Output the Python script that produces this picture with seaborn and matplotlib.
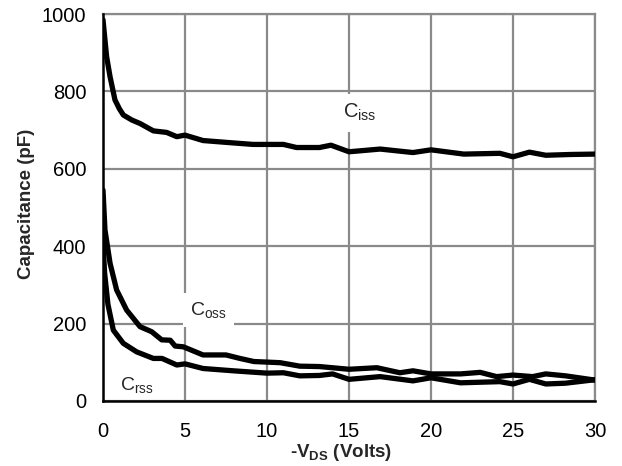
import matplotlib
matplotlib.use("Agg")
import matplotlib.pyplot as plt
import seaborn as sns
import pandas as pd

# ---- data ----
ciss_v = [0, 0.22, 0.43, 0.73, 1.0, 1.24, 1.76, 2.26, 3.07, 3.88, 4.5, 5.0, 6.1, 7.9, 9.15,
          11.0, 11.8, 13.2, 13.9, 15.0, 16.9, 18.9, 20.0, 22.0, 24.2, 25.0, 26.0, 27.0, 28.5, 30]
ciss_c = [985, 890, 838, 778, 755, 739, 726, 717, 698, 694, 683, 687, 673, 667, 663,
          663, 655, 655, 661, 644, 651, 642, 649, 638, 640, 631, 643, 635, 637, 638]

coss_v = [0, 0.12, 0.43, 0.83, 1.44, 2.26, 2.97, 3.58, 4.1, 4.4, 4.9, 6.1, 7.5, 8.35, 9.2,
          10.8, 12.0, 13.2, 15.0, 16.7, 18.1, 18.9, 20.0, 21.8, 23.0, 24.0, 25.0, 26.2, 27.0, 28.2, 30]
coss_c = [545, 442, 356, 287, 235, 192, 179, 158, 157, 142, 140, 119, 119, 110, 102,
          99, 90, 89, 82, 86, 73, 78, 70, 70, 74, 63, 67, 63, 70, 65, 54]

crss_v = [0, 0.1, 0.3, 0.63, 1.24, 2.05, 3.07, 3.6, 4.5, 5.0, 6.1, 7.95, 10.0, 11.0, 12.0,
          13.2, 14.0, 15.0, 16.9, 18.9, 20.0, 21.8, 24.2, 25.0, 26.0, 27.0, 28.2, 30]
crss_c = [410, 330, 250, 183, 149, 127, 110, 110, 93, 96, 84, 78, 72, 73, 65,
          66, 70, 56, 63, 52, 60, 47, 50, 44, 56, 44, 46, 55]

x_ticks = [0, 5, 10, 15, 20, 25, 30]
y_ticks = [0, 200, 400, 600, 800, 1000]

series_labels = ["C$_{\\mathregular{iss}}$", "C$_{\\mathregular{oss}}$", "C$_{\\mathregular{rss}}$"]

# ---- style ----
sns.set_theme(style="white")
plt.rcParams["font.family"] = ["Liberation Sans", "DejaVu Sans"]
plt.rcParams["mathtext.fontset"] = "custom"
plt.rcParams["mathtext.rm"] = "Liberation Sans"
plt.rcParams["mathtext.bf"] = "Liberation Sans:bold"
plt.rcParams["mathtext.default"] = "regular"

fig = plt.figure(figsize=(6.22, 4.66), dpi=100)
ax = fig.add_axes([103 / 622, 1 - 401 / 466, 492 / 622, 387 / 466])

grid_col = "#8a8a8a"
for v, c in [(ciss_v, ciss_c), (coss_v, coss_c), (crss_v, crss_c)]:
    df = pd.DataFrame({"V": v, "C": c})
    sns.lineplot(data=df, x="V", y="C", ax=ax, color="black", linewidth=3.8,
                 sort=False, solid_capstyle="round", solid_joinstyle="round", zorder=3)

ax.set_xlim(0, 30)
ax.set_ylim(0, 1000)
ax.set_xticks(x_ticks)
ax.set_yticks(y_ticks)
ax.grid(True, color=grid_col, linewidth=1.6)
ax.set_axisbelow(True)
ax.tick_params(length=0, labelsize=14.5, colors="black")
ax.tick_params(axis="x", pad=15)
ax.tick_params(axis="y", pad=12)

for s in ["left", "bottom"]:
    ax.spines[s].set_color("black")
    ax.spines[s].set_linewidth(1.8)
    ax.spines[s].set_zorder(4)
for s in ["top", "right"]:
    ax.spines[s].set_color(grid_col)
    ax.spines[s].set_linewidth(1.6)

ax.set_xlabel("-V$_{\\mathbf{DS}}$ (Volts)", fontsize=13.5, fontweight="bold", va="baseline")
ax.xaxis.set_label_coords(0.484, -0.145)
ax.set_ylabel("Capacitance (pF)", fontsize=13.5, fontweight="bold")
ax.yaxis.set_label_coords(-0.138, 0.51)

ax.text(14.63, 731, series_labels[0], fontsize=14.5, ha="left", va="baseline",
        bbox=dict(facecolor="white", edgecolor="none", pad=6), zorder=2)
ax.text(5.3, 222, series_labels[1], fontsize=14, ha="left", va="baseline",
        bbox=dict(facecolor="white", edgecolor="none", pad=5), zorder=2)
ax.text(1.04, 28, series_labels[2], fontsize=14, ha="left", va="baseline",
        bbox=dict(facecolor="white", edgecolor="none", pad=3), zorder=2)

fig.savefig("out.png", dpi=100)
